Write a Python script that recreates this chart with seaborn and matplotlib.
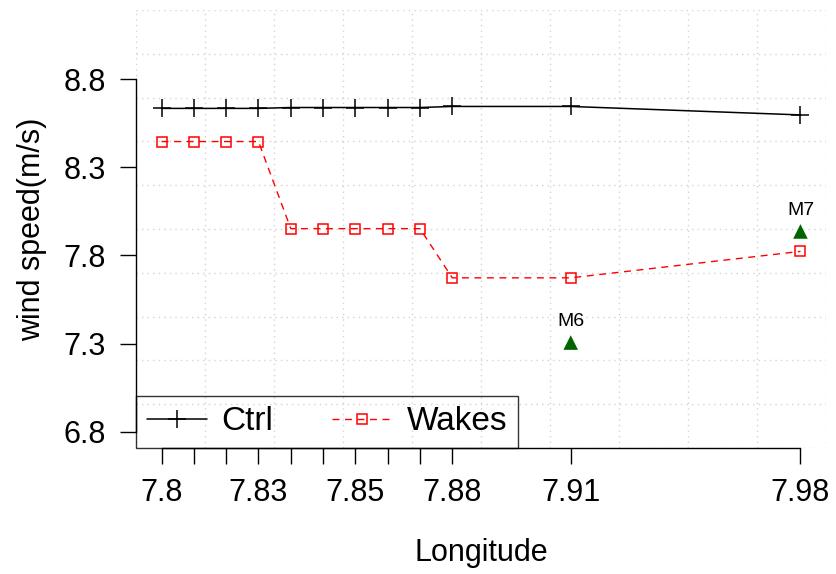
import numpy as np
import pandas as pd
import matplotlib
matplotlib.use("Agg")
import matplotlib.pyplot as plt
import seaborn as sns

# Longitude of each sample point along the transect
longitude = [7.800, 7.809, 7.818, 7.827, 7.836, 7.845, 7.854, 7.863, 7.872, 7.881, 7.914, 7.978]
# Tick labels drawn under the x ticks (blank where labels would collide)
x_tick_labels = ["7.8", "", "", "7.83", "", "", "7.85", "", "", "7.88", "7.91", "7.98"]

# Mean wind speed (m/s) in the two simulations
ctrl = [8.634, 8.634, 8.634, 8.634, 8.639, 8.639, 8.639, 8.639, 8.639, 8.645, 8.645, 8.597]
wakes = [8.446, 8.446, 8.446, 8.446, 7.952, 7.952, 7.952, 7.952, 7.952, 7.673, 7.673, 7.823]

# Mast observations
mast_names = ["M6", "M7"]
mast_lon = [7.914, 7.978]
mast_speed = [7.306, 7.936]

y_ticks = [6.8, 7.3, 7.8, 8.3, 8.8]
y_range = (6.8, 9.1)

sns.set_theme(style="white")
plt.rcParams["font.family"] = ["Liberation Sans", "DejaVu Sans"]

W, H = 837, 574
fig = plt.figure(figsize=(W / 100, H / 100), dpi=100)
ax = fig.add_axes([136 / W, (H - 448) / H, (826 - 136) / W, (448 - 10) / H])

df = pd.DataFrame({"lon": longitude, "Ctrl": ctrl, "Wakes": wakes})

# axis limits with a 4% margin on each side
xr = longitude[-1] - longitude[0]
xlim = (longitude[0] - 0.04 * xr, longitude[-1] + 0.04 * xr)
yr = y_range[1] - y_range[0]
ylim = (y_range[0] - 0.04 * yr, y_range[1] + 0.04 * yr)
ax.set_xlim(*xlim)
ax.set_ylim(*ylim)

# dotted background grid, 10 x 10 cells over the plotting region
for gx in np.linspace(xlim[0], xlim[1], 11):
    ax.axvline(gx, color="#D3D3D3", lw=1.0, ls=(0, (1, 3)), zorder=0.5)
for gy in np.linspace(ylim[0], ylim[1], 11):
    ax.axhline(gy, color="#D3D3D3", lw=1.0, ls=(0, (1, 3)), zorder=0.5)

sns.lineplot(data=df, x="lon", y="Ctrl", ax=ax, color="black", lw=1.1,
             marker="+", markersize=13, markeredgewidth=1.1,
             markeredgecolor="black", markerfacecolor="black",
             label="Ctrl", zorder=3)
sns.lineplot(data=df, x="lon", y="Wakes", ax=ax, color="#FF0000", lw=1.0,
             dashes=False, linestyle=(0, (5, 4)), marker="s", markersize=7.5,
             markerfacecolor="none", markeredgecolor="#FF0000",
             markeredgewidth=1.1, label="Wakes", zorder=3)

sns.scatterplot(x=mast_lon, y=mast_speed, ax=ax, marker="^", s=110,
                color="#006400", edgecolor="none", zorder=4, legend=False)
for name, mx, my in zip(mast_names, mast_lon, mast_speed):
    ax.annotate(name, (mx, my), xytext=(0, 15), textcoords="offset points",
                ha="center", va="center", fontsize=14, color="black")

# R-style axes: spines only spanning the tick range
for side in ("top", "right"):
    ax.spines[side].set_visible(False)
for side in ("left", "bottom"):
    ax.spines[side].set_color("black")
    ax.spines[side].set_linewidth(1.0)
ax.spines["left"].set_bounds(y_ticks[0], y_ticks[-1])
ax.spines["bottom"].set_bounds(longitude[0], longitude[-1])

ax.set_xticks(longitude)
ax.set_xticklabels(x_tick_labels)
ax.set_yticks(y_ticks)
ax.set_yticklabels([f"{v:.1f}" for v in y_ticks])
ax.tick_params(axis="both", direction="out", length=11.5, width=1.0,
               color="black", labelsize=22, labelcolor="black",
               left=True, bottom=True)
ax.tick_params(axis="y", pad=10)
ax.tick_params(axis="x", pad=10)

ax.set_xlabel("Longitude", fontsize=22, color="black", labelpad=22)
ax.set_ylabel("wind speed(m/s)", fontsize=22, color="black", labelpad=12)

leg = ax.legend(loc="lower left", bbox_to_anchor=(0, 0), borderaxespad=0,
                ncol=2, fontsize=24, frameon=True, fancybox=False,
                edgecolor="black", facecolor="none", framealpha=None,
                handlelength=1.8, handletextpad=0.45, columnspacing=1.75,
                borderpad=0.32, numpoints=1, labelcolor="black")
leg.get_frame().set_linewidth(1.0)
leg.set_zorder(1)

ax.set_facecolor("white")
fig.savefig("out.png", dpi=100, facecolor="white")
